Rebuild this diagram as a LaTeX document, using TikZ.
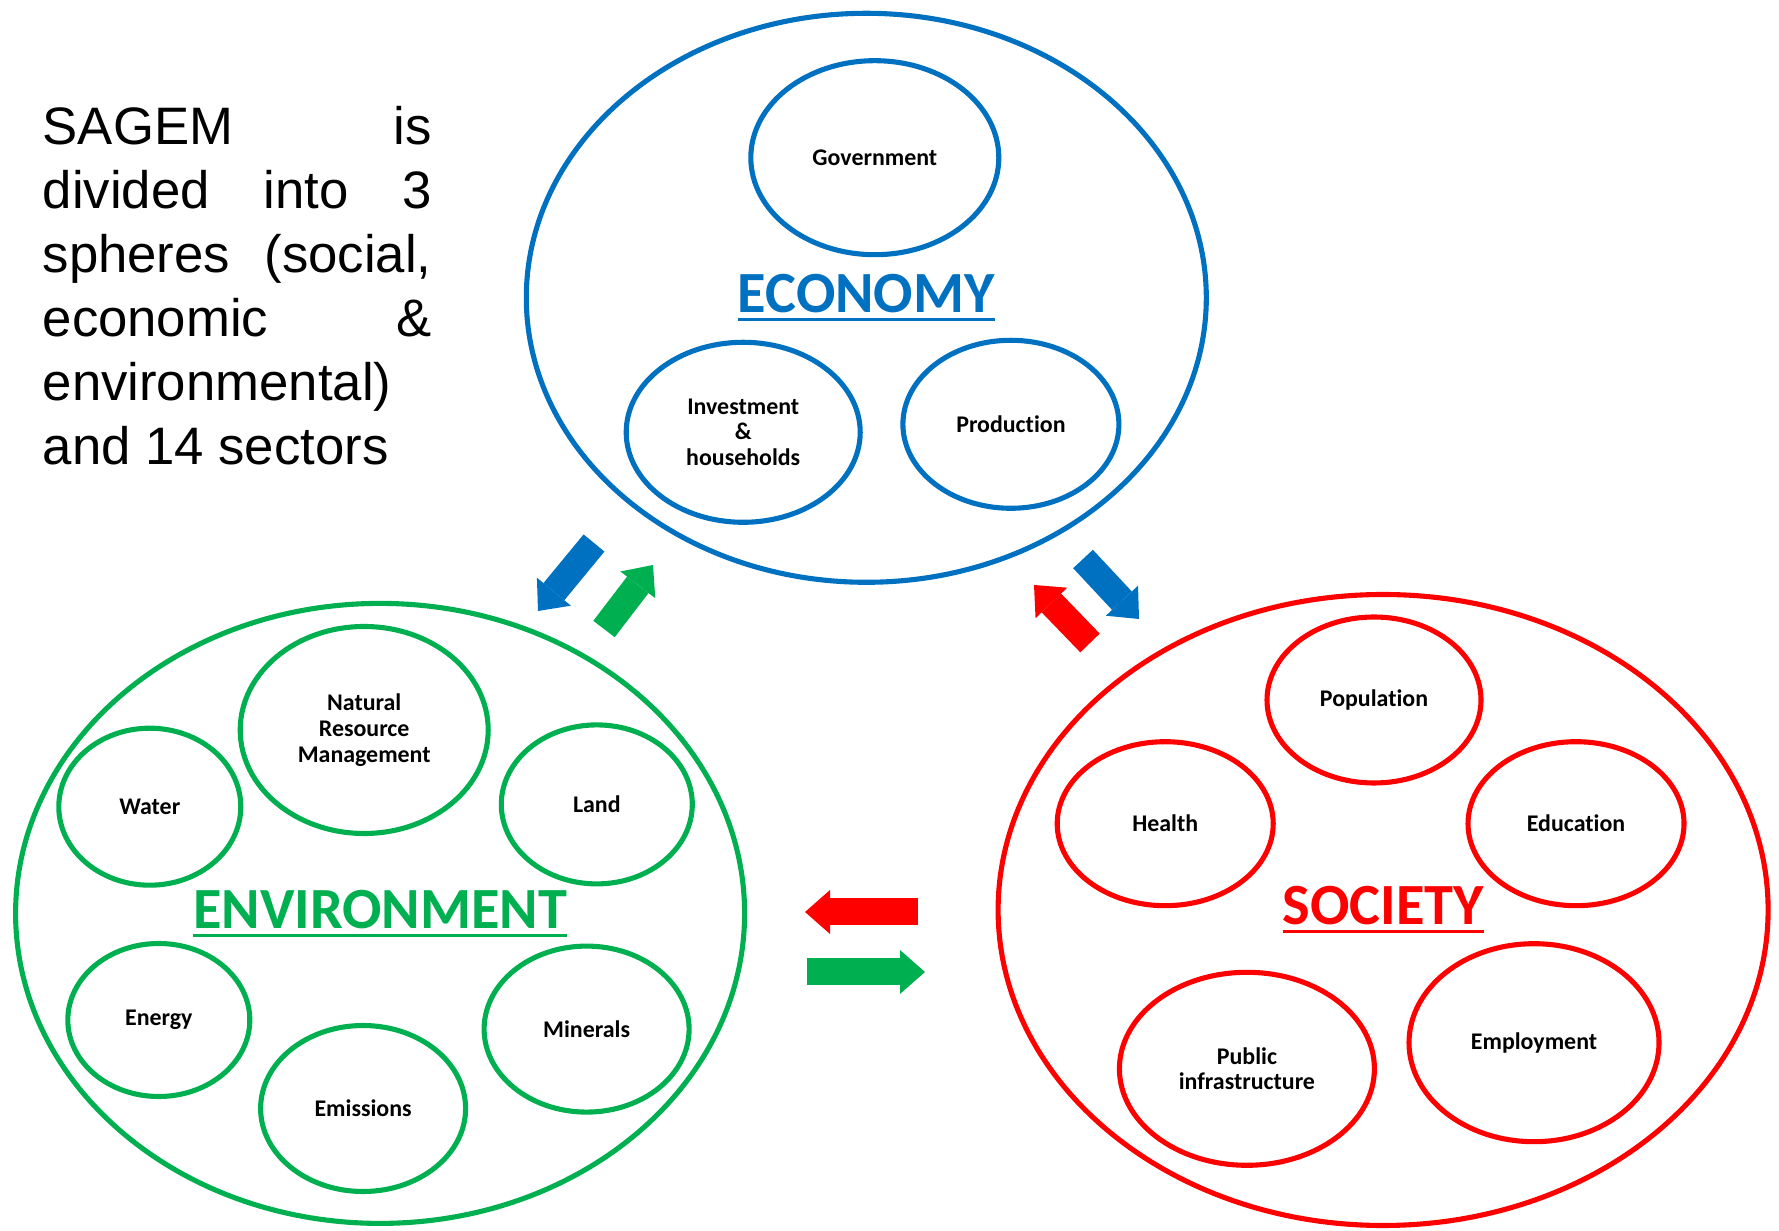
\documentclass[tikz,border=0pt]{standalone}
\usepackage{fontspec}
\usepackage{xcolor}
\usepackage{tikz}
\usetikzlibrary{arrows.meta,positioning,shapes.geometric}
\setmainfont{Liberation Sans}
\newfontfamily\calibri[Ligatures=NoCommon]{Carlito}
\definecolor{ecoblue}{RGB}{0,112,192}
\definecolor{envgreen}{RGB}{0,176,80}
\definecolor{socred}{RGB}{255,0,0}
\newcommand{\spherename}[1]{\setbox0\hbox{#1}\rlap{\rule[-2.4pt]{\wd0}{0.9pt}}\box0}

\begin{document}
\begin{tikzpicture}[
    every node/.style={align=center, inner sep=0pt},
    sphere/.style={ellipse, line width=1.45pt,
        font=\calibri\bfseries\fontsize{16.6}{20}\selectfont},
    sector/.style={ellipse, line width=1.45pt, text=black,
        font=\calibri\bfseries\fontsize{6.8}{7.3}\selectfont},
    intro/.style={text width=3.89cm, align=justify,
        font=\fontsize{15}{18.2}\selectfont},
    flow/.style={line width=0.27cm,
        -{Triangle[width=0.44cm, length=0.25cm, line width=0pt]}}
]
\useasboundingbox (0,0) rectangle (17.79,12.30);

\node[intro, anchor=north west] (intro) at (0.42,11.245)
    {SAGEM is\linebreak divided into 3\linebreak spheres (social,\linebreak
     economic \&\linebreak environmental)\linebreak and 14 sectors};

\node[sphere, draw=ecoblue, text=ecoblue, minimum width=6.80cm, minimum height=5.69cm]
    (economy) at (8.663,9.322) {\spherename{ECONOMY}};
\node[sector, draw=ecoblue, minimum width=2.48cm, minimum height=1.94cm]
    (government) at (8.748,10.723) {Government};
\node[sector, draw=ecoblue, minimum width=2.34cm, minimum height=1.80cm]
    (investment) at (7.432,7.977) {Investment\\\&\\households};
\node[sector, draw=ecoblue, minimum width=2.16cm, minimum height=1.68cm]
    (production) at (10.109,8.057) {Production};

\node[sphere, draw=envgreen, text=envgreen, minimum width=7.29cm, minimum height=6.20cm]
    (environment) at (3.801,3.166) {\spherename{ENVIRONMENT}};
\node[sector, draw=envgreen, minimum width=2.48cm, minimum height=2.07cm]
    (resource) at (3.642,5.000) {Natural\\Resource\\Management};
\node[sector, draw=envgreen, minimum width=1.82cm, minimum height=1.57cm]
    (water) at (1.498,4.233) {Water};
\node[sector, draw=envgreen, minimum width=1.91cm, minimum height=1.59cm]
    (land) at (5.968,4.256) {Land};
\node[sector, draw=envgreen, minimum width=1.82cm, minimum height=1.53cm]
    (energy) at (1.588,2.100) {Energy};
\node[sector, draw=envgreen, minimum width=2.05cm, minimum height=1.66cm]
    (emissions) at (3.631,1.215) {Emissions};
\node[sector, draw=envgreen, minimum width=2.05cm, minimum height=1.66cm]
    (minerals) at (5.866,2.009) {Minerals};

\node[sphere, draw=socred, text=socred, minimum width=7.70cm, minimum height=6.31cm]
    (society) at (13.831,3.200) {\spherename{SOCIETY}};
\node[sector, draw=socred, minimum width=2.14cm, minimum height=1.66cm]
    (population) at (13.740,5.300) {Population};
\node[sector, draw=socred, minimum width=2.16cm, minimum height=1.64cm]
    (health) at (11.652,4.063) {Health};
\node[sector, draw=socred, minimum width=2.16cm, minimum height=1.64cm]
    (education) at (15.760,4.063) {Education};
\node[sector, draw=socred, minimum width=2.55cm, minimum height=1.93cm]
    (infrastructure) at (12.469,1.612) {Public\\infrastructure};
\node[sector, draw=socred, minimum width=2.50cm, minimum height=1.98cm]
    (employment) at (15.340,1.873) {Employment};

\coordinate (eco-env-a) at (5.94,6.87);
\coordinate (eco-env-b) at (5.38,6.19);
\coordinate (env-eco-a) at (6.04,6.01);
\coordinate (env-eco-b) at (6.53,6.65);
\coordinate (eco-soc-a) at (10.83,6.71);
\coordinate (eco-soc-b) at (11.39,6.11);
\coordinate (soc-eco-a) at (10.90,5.87);
\coordinate (soc-eco-b) at (10.34,6.45);
\coordinate (soc-env-a) at (9.18,3.18);
\coordinate (soc-env-b) at (8.05,3.18);
\coordinate (env-soc-a) at (8.07,2.58);
\coordinate (env-soc-b) at (9.25,2.58);

\draw[flow, ecoblue] (eco-env-a) -- (eco-env-b);
\draw[flow, envgreen] (env-eco-a) -- (env-eco-b);
\draw[flow, ecoblue] (eco-soc-a) -- (eco-soc-b);
\draw[flow, socred] (soc-eco-a) -- (soc-eco-b);
\draw[flow, socred] (soc-env-a) -- (soc-env-b);
\draw[flow, envgreen] (env-soc-a) -- (env-soc-b);
\end{tikzpicture}
\end{document}
